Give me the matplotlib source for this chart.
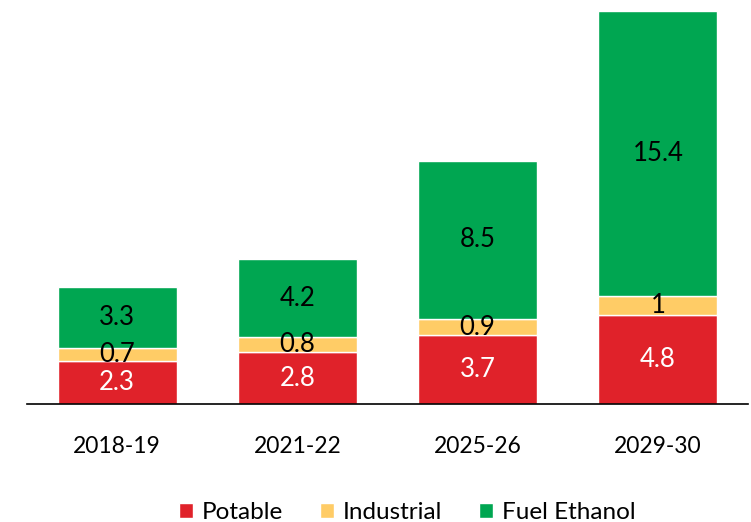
import numpy as np
import matplotlib.pyplot as plt

plt.rcParams['font.family'] = ['Lato', 'DejaVu Sans']

years = ['2018-19', '2021-22', '2025-26', '2029-30']
potable = [2.3, 2.8, 3.7, 4.8]
industrial = [0.7, 0.8, 0.9, 1]
fuel_ethanol = [3.3, 4.2, 8.5, 15.4]

red = '#E0222A'
yellow = '#FFCC66'
green = '#00A651'

fig = plt.figure(figsize=(7.51, 5.22), dpi=100)
ax = fig.add_axes([27 / 751, 1 - 404 / 522, (748 - 27) / 751, (404 - 11) / 522])

x = np.arange(len(years))
w = 0.66
b1 = ax.bar(x, potable, w, color=red, edgecolor='white', linewidth=1, label='Potable')
b2 = ax.bar(x, industrial, w, bottom=potable, color=yellow, edgecolor='white',
            linewidth=1, label='Industrial')
bottom3 = np.array(potable) + np.array(industrial)
b3 = ax.bar(x, fuel_ethanol, w, bottom=bottom3, color=green, edgecolor='white',
            linewidth=1, label='Fuel Ethanol')

ax.bar_label(b1, labels=[str(v) for v in potable], label_type='center', color='white', fontsize=18.5)
ax.bar_label(b2, labels=[str(v) for v in industrial], label_type='center', color='black', fontsize=18.5)
ax.bar_label(b3, labels=[str(v) for v in fuel_ethanol], label_type='center', color='black', fontsize=18.5)

ax.set_xlim(-0.5, len(years) - 0.5)
ax.set_ylim(0, 21.2)
ax.set_yticks([])
for s in ['top', 'right', 'left']:
    ax.spines[s].set_visible(False)
ax.spines['bottom'].set_color('black')
ax.spines['bottom'].set_linewidth(1.2)
ax.set_xticks(x)
ax.set_xticklabels(years, fontsize=16.5)
ax.tick_params(axis='x', length=0, pad=23)

fig.legend(handles=[b1, b2, b3], loc='center', bbox_to_anchor=(0.542, 0.018),
           ncol=3, frameon=False, fontsize=17.5, handlelength=0.6, handleheight=0.6,
           handletextpad=0.35, columnspacing=1.5)

fig.savefig('out.png', dpi=100)
